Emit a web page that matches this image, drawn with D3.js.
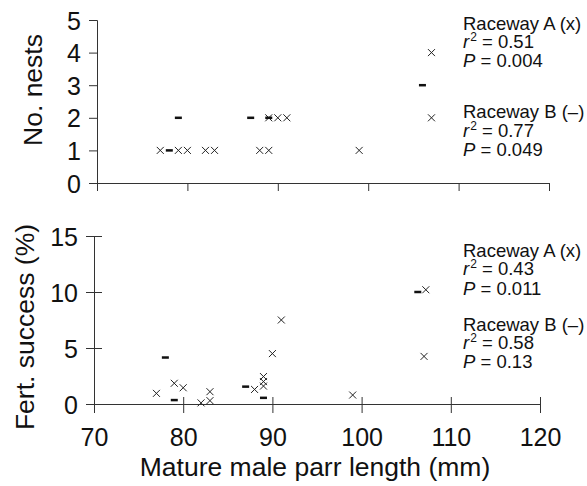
<!DOCTYPE html>
<html>
<head>
  <meta charset="utf-8">
  <script src="https://d3js.org/d3.v7.min.js"></script>
  <style>
  body { margin: 0; background: #fff; }
  svg { font-family: "Liberation Sans", Arial, Helvetica, sans-serif; }
  .axis path, .axis line { stroke: #333; stroke-width: 1px; fill: none; }
  .axis text { font-size: 25px; fill: #111; }
  .cross { fill: none; stroke: #222; stroke-width: 1px; }
  .dash { fill: #111; }
  .note { font-size: 18.5px; fill: #111; }
  .title { font-size: 26.5px; fill: #111; }
  </style>
</head>
<body>
<script>
// x ticks and y ticks
var xTicks = [70, 80, 90, 100, 110, 120];
var nestTicks = [0, 1, 2, 3, 4, 5];
var fertTicks = [0, 5, 10, 15];

// top panel: number of nests
var nestsA_len = [77, 79, 80, 82, 83, 88, 89, 89, 90, 91, 99, 107, 107];
var nestsA_val = [1, 1, 1, 1, 1, 1, 1, 2, 2, 2, 1, 4, 2];
var nestsB_len = [78, 79, 87, 89, 106];
var nestsB_val = [1, 2, 2, 2, 3];

// bottom panel: fertilisation success (%)
var fertA_len = [77, 79, 80, 82, 83, 83, 88, 89, 89, 89, 90, 91, 99, 107.2, 107];
var fertA_val = [0.95, 1.85, 1.45, 0.1, 1.1, 0.3, 1.3, 2.45, 2.0, 1.6, 4.5, 7.5, 0.8, 10.2, 4.25];
var fertB_len = [78, 79, 87, 89, 106.3];
var fertB_val = [4.15, 0.35, 1.55, 0.55, 10.0];

var notesTop = [["Raceway A (x)", "0.51", "0.004"], ["Raceway B (\u2013)", "0.77", "0.049"]];
var notesBot = [["Raceway A (x)", "0.43", "0.011"], ["Raceway B (\u2013)", "0.58", "0.13"]];

var svg = d3.select("body").append("svg")
  .attr("width", 587)
  .attr("height", 486);

var crossPath = "M-3.5,-3.5L3.5,3.5M-3.5,3.5L3.5,-3.5";

function zip(a, b) {
  return a.map(function(d, i) { return [d, b[i]]; });
}

function panel(opt) {
  var x = d3.scaleLinear().domain([70, 120]).range(opt.xr);
  var y = d3.scaleLinear().domain(opt.yd).range(opt.yr);

  var gx = svg.append("g")
    .attr("class", "axis")
    .attr("transform", "translate(0," + opt.yr[0] + ")")
    .call(d3.axisBottom(x).tickValues(xTicks).tickSizeOuter(0).tickSize(8));
  var gy = svg.append("g")
    .attr("class", "axis")
    .attr("transform", "translate(" + opt.xr[0] + ",0)")
    .call(d3.axisLeft(y).tickValues(opt.yt).tickFormat(d3.format("d")).tickSizeOuter(0).tickSize(8));

  gy.selectAll("text").attr("x", -16).attr("dy", "0.36em");

  if (opt.cross) {
    // ticks cross the axis in the lower panel
    gx.selectAll(".tick line").attr("y1", -7).attr("y2", 9);
    gy.selectAll(".tick line").attr("x1", -8).attr("x2", 8);
  }
  if (opt.xlabels) {
    gx.selectAll("text").attr("y", 42).attr("dy", 0);
  } else {
    gx.selectAll("text").remove();
  }

  svg.append("g").selectAll("path")
    .data(zip(opt.aLen, opt.aVal))
    .enter().append("path")
      .attr("class", "cross")
      .attr("d", crossPath)
      .attr("transform", function(d) { return "translate(" + x(d[0]) + "," + y(d[1]) + ")"; });

  svg.append("g").selectAll("rect")
    .data(zip(opt.bLen, opt.bVal))
    .enter().append("rect")
      .attr("class", "dash")
      .attr("x", function(d) { return x(d[0]) - 3.5; })
      .attr("y", function(d) { return y(d[1]) - 1.25; })
      .attr("width", 7)
      .attr("height", 2.5);

  // y axis title
  svg.append("text")
    .attr("class", "title")
    .attr("text-anchor", "middle")
    .attr("transform", "translate(" + opt.titleX + "," + opt.titleY + ") rotate(-90)")
    .text(opt.title);

  // statistics notes
  opt.notes.forEach(function(n, i) {
    var base = opt.noteY[i];
    svg.append("text").attr("class", "note").attr("x", 463).attr("y", base[0]).text(n[0]);
    var t2 = svg.append("text").attr("class", "note").attr("x", 463).attr("y", base[1]);
    t2.append("tspan").style("font-style", "italic").text("r");
    t2.append("tspan").attr("dy", -7).attr("dx", 1).style("font-size", "12px").text("2");
    t2.append("tspan").attr("dy", 7).text(" = " + n[1]);
    var t3 = svg.append("text").attr("class", "note").attr("x", 463).attr("y", base[2]);
    t3.append("tspan").style("font-style", "italic").text("P");
    t3.append("tspan").text(" = " + n[2]);
  });
}

panel({
  xr: [97, 549], yd: [0, 5], yr: [183, 20], yt: nestTicks,
  aLen: nestsA_len, aVal: nestsA_val, bLen: nestsB_len, bVal: nestsB_val,
  cross: false, xlabels: false,
  title: "No. nests", titleX: 42, titleY: 90,
  notes: notesTop, noteY: [[30, 48, 67], [118, 137, 156]]
});

panel({
  xr: [94, 540], yd: [0, 15], yr: [404, 236], yt: fertTicks,
  aLen: fertA_len, aVal: fertA_val, bLen: fertB_len, bVal: fertB_val,
  cross: true, xlabels: true,
  title: "Fert. success (%)", titleX: 34, titleY: 327,
  notes: notesBot, noteY: [[257, 275, 295], [331, 349, 368]]
});

svg.append("text")
  .attr("class", "title")
  .attr("text-anchor", "middle")
  .attr("x", 315)
  .attr("y", 476)
  .text("Mature male parr length (mm)");
</script>
</body>
</html>
